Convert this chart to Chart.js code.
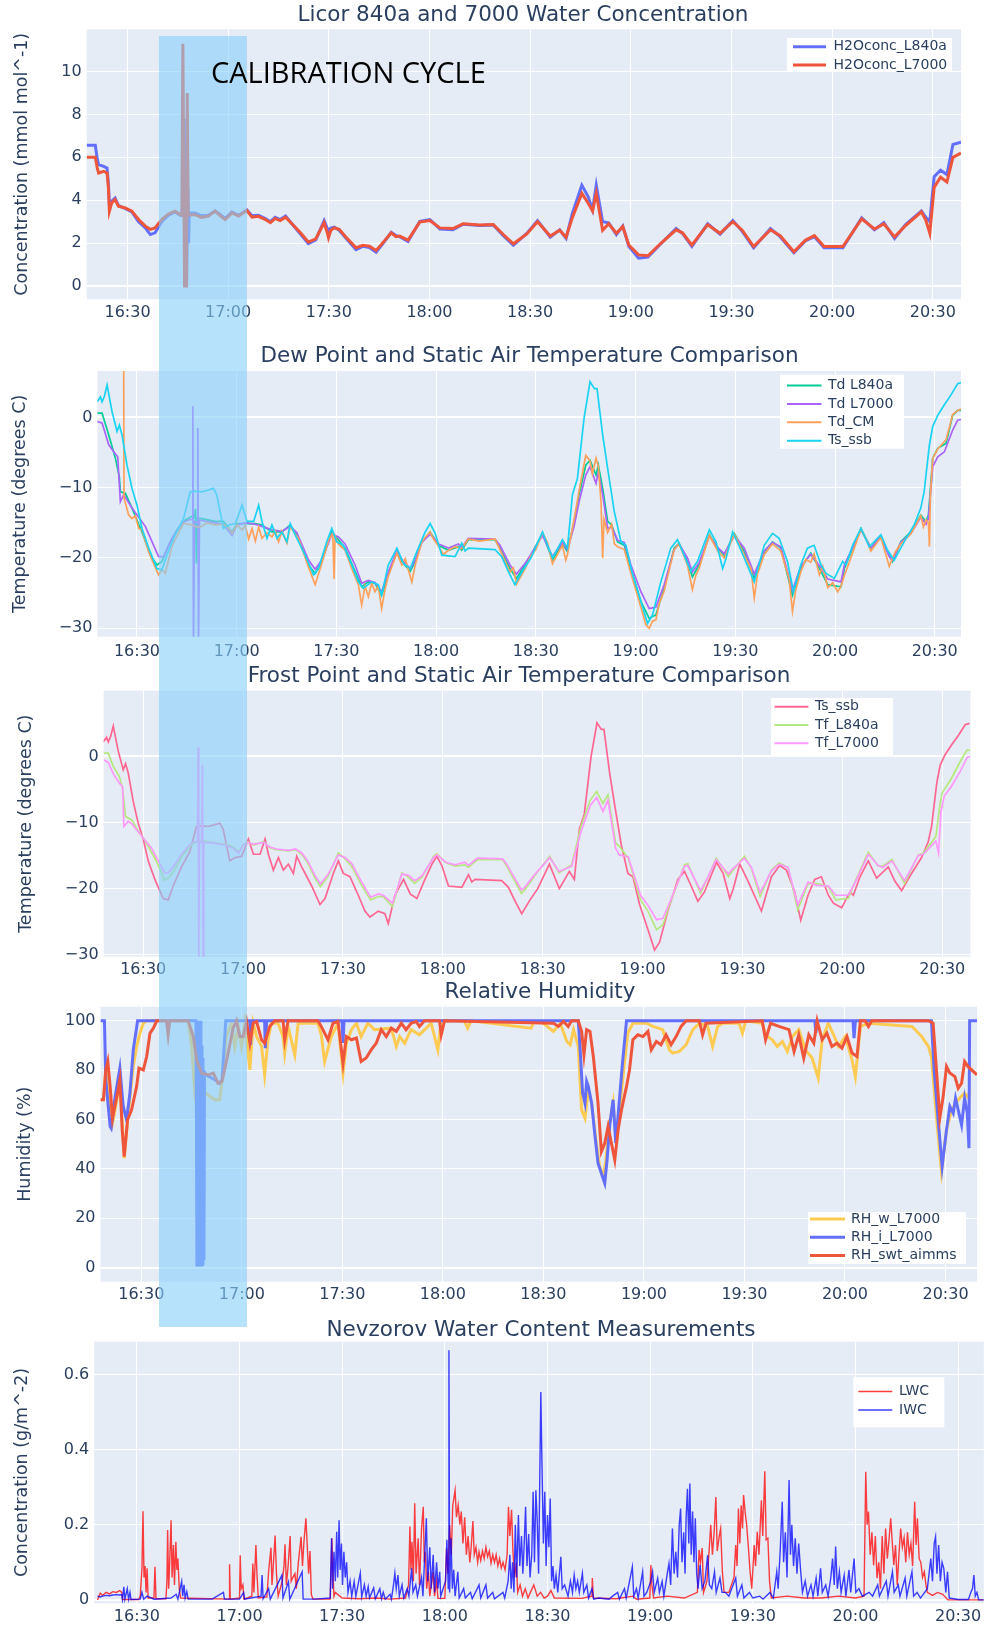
<!DOCTYPE html>
<html>
<head>
<meta charset="utf-8">
<script src="https://cdn.jsdelivr.net/npm/chart.js@4.4.1/dist/chart.umd.min.js"></script>
<style>
  html, body { margin: 0; padding: 0; background: #fff; }
  #page { position: relative; width: 985px; height: 1627px; overflow: hidden; }
  #page canvas { position: absolute; left: 0; }
  #calib { position: absolute; left: 159px; top: 36px; width: 88px; height: 1291px;
           background: rgba(135, 206, 250, 0.6); pointer-events: none; }
  #calibText { position: absolute; left: 211px; top: 57px; font: 29px "Open Sans"; line-height: 29px;
               color: #000; white-space: nowrap; }
</style>
</head>
<body>
<div id="page">
  <div id="calib"></div>
  <div id="calibText">CALIBRATION CYCLE</div>
</div>
<script>
// time values are minutes after 16:00
const CLOCK_START_HOUR = 16;

// Licor 840a and 7000 water concentration (mmol/mol)
const h2oL840a = [[17.84,6.56],[20.4,6.56],[21.0,5.9],[21.4,5.66],[22.9,5.58],[23.9,5.5],[24.3,4.8],[24.6,3.8],[25.3,3.95],[26.3,4.1],[27.3,3.75],[29.3,3.62],[31.3,3.45],[33.3,3.0],[35.3,2.71],[36.8,2.4],[38.2,2.48],[40.2,3.0],[42.2,3.3],[44.2,3.45],[45.7,3.3],[46.3,3.3],[46.9,7.8],[47.3,0.1],[47.6,0.1],[48.0,4.6],[48.2,2.0],[48.4,3.4],[50.1,3.4],[52.0,3.28],[54.1,3.3],[56.1,3.5],[57.5,3.35],[59.1,3.15],[61.1,3.45],[63.1,3.3],[65.6,3.55],[67.1,3.28],[69.0,3.3],[71.1,3.15],[72.6,3.0],[74.0,3.2],[75.5,3.1],[77.1,3.26],[79.0,2.9],[81.1,2.5],[83.9,1.98],[86.1,2.15],[88.6,3.05],[89.5,2.7],[89.9,2.6],[90.6,2.7],[91.6,2.75],[93.1,2.6],[95.0,2.25],[98.1,1.7],[100.1,1.85],[102.1,1.8],[104.1,1.58],[106.0,1.95],[108.6,2.5],[110.0,2.35],[111.1,2.3],[113.6,2.08],[117.1,3.02],[120.1,3.1],[123.1,2.66],[127.0,2.62],[130.0,2.88],[135.0,2.82],[139.0,2.85],[142.0,2.35],[145.0,1.9],[149.0,2.45],[152.2,3.05],[156.0,2.28],[158.8,2.62],[160.7,2.22],[162.6,3.4],[165.4,4.7],[167.3,4.16],[168.6,3.55],[169.7,4.7],[171.6,3.0],[173.4,2.95],[175.7,2.4],[177.6,2.8],[179.4,1.85],[182.3,1.3],[185.1,1.35],[188.8,1.95],[193.5,2.68],[195.4,2.45],[198.2,1.85],[202.9,2.9],[206.6,2.42],[210.4,3.05],[213.2,2.55],[216.6,1.78],[221.6,2.68],[224.5,2.3],[228.6,1.55],[232.0,2.1],[234.7,2.3],[237.6,1.78],[243.2,1.78],[248.8,3.18],[252.6,2.62],[255.4,2.95],[258.6,2.22],[261.9,2.86],[266.6,3.5],[267.9,3.2],[269.1,3.0],[270.4,5.1],[272.3,5.4],[274.2,5.2],[276.0,6.6],[278.4,6.7]];
const h2oL7000 = [[17.84,6.0],[20.4,6.0],[21.0,5.5],[21.4,5.27],[22.9,5.35],[23.9,5.27],[24.3,4.6],[24.6,3.49],[25.3,3.88],[26.3,4.03],[27.3,3.72],[29.3,3.64],[31.3,3.49],[33.3,3.1],[35.3,2.79],[36.8,2.64],[38.2,2.71],[40.2,3.1],[42.2,3.36],[44.2,3.49],[45.7,3.33],[46.2,3.3],[46.5,11.3],[47.0,0.0],[47.6,0.0],[47.8,9.0],[48.1,3.3],[50.1,3.33],[52.0,3.2],[54.1,3.26],[56.1,3.49],[57.5,3.3],[59.1,3.1],[61.1,3.41],[63.1,3.26],[65.6,3.52],[67.1,3.21],[69.0,3.25],[71.1,3.1],[72.6,2.95],[74.0,3.15],[75.5,3.05],[77.1,3.21],[79.0,2.9],[81.1,2.56],[83.9,2.05],[86.1,2.2],[88.6,2.95],[89.5,2.5],[89.9,2.25],[90.6,2.6],[91.6,2.71],[93.1,2.64],[95.0,2.3],[98.1,1.78],[100.1,1.9],[102.1,1.86],[104.1,1.66],[106.0,2.0],[108.6,2.48],[110.0,2.3],[111.1,2.33],[113.6,2.14],[117.1,2.98],[120.1,3.05],[123.1,2.71],[127.0,2.68],[130.0,2.9],[135.0,2.85],[139.0,2.87],[142.0,2.4],[145.0,1.97],[149.0,2.43],[152.2,3.0],[156.0,2.33],[158.8,2.6],[160.7,2.27],[162.6,3.2],[165.4,4.32],[167.3,3.86],[168.6,3.5],[169.7,4.32],[171.6,2.6],[173.4,2.9],[175.7,2.46],[177.6,2.77],[179.4,1.91],[182.3,1.45],[185.1,1.41],[188.8,1.97],[193.5,2.62],[195.4,2.48],[198.2,1.91],[202.9,2.86],[206.6,2.46],[210.4,3.0],[213.2,2.6],[216.6,1.84],[221.6,2.62],[224.5,2.35],[228.6,1.6],[232.0,2.13],[234.7,2.35],[237.6,1.84],[243.2,1.84],[248.8,3.13],[252.6,2.66],[255.4,2.9],[258.6,2.29],[261.9,2.82],[266.6,3.46],[267.9,3.07],[269.1,2.46],[270.4,4.6],[272.3,5.07],[274.2,4.85],[276.0,6.0],[278.4,6.2]];

// dew point / static air temperature (deg C)
const tdL840a = [[18.0,0.6],[19.5,0.6],[21.5,-2.5],[23.5,-5.8],[24.7,-8.5],[25.0,-10.6],[26.5,-10.8],[28.5,-12.9],[31.5,-16.3],[34.0,-19.6],[36.0,-21.0],[37.5,-20.5],[39.5,-18.2],[42.0,-16.0],[44.5,-14.6],[46.5,-14.1],[47.3,-14.3],[47.6,-13.0],[47.9,-20.8],[48.2,-14.3],[49.5,-14.4],[53.5,-14.8],[56.0,-14.8],[58.6,-16.3],[60.1,-15.1],[62.6,-15.1],[65.6,-15.1],[67.6,-15.3],[70.6,-16.3],[73.6,-16.3],[76.1,-15.3],[78.1,-16.7],[81.6,-21.0],[83.6,-22.2],[85.6,-20.5],[88.6,-16.3],[90.6,-17.4],[92.6,-18.6],[95.6,-21.9],[97.6,-24.1],[99.6,-23.4],[101.6,-23.6],[103.6,-25.3],[105.6,-22.4],[108.2,-19.1],[109.7,-20.5],[112.2,-21.9],[113.7,-20.5],[115.7,-17.7],[118.2,-16.3],[120.7,-18.2],[123.7,-18.9],[126.7,-18.4],[127.7,-18.9],[129.7,-17.4],[137.7,-17.4],[139.2,-18.6],[142.2,-21.5],[144.2,-22.9],[146.7,-21.0],[148.5,-19.6],[152.0,-16.5],[155.0,-20.3],[158.0,-17.9],[159.5,-19.1],[161.5,-14.8],[163.0,-11.0],[165.0,-6.8],[166.3,-6.1],[168.1,-8.2],[168.8,-6.8],[170.1,-10.1],[171.6,-14.8],[172.8,-15.3],[174.6,-17.7],[176.6,-18.2],[178.6,-21.5],[181.6,-26.2],[184.1,-28.6],[186.1,-28.1],[188.6,-24.3],[191.6,-18.6],[193.1,-17.9],[195.6,-20.5],[197.1,-22.7],[199.1,-21.0],[202.2,-16.7],[204.7,-18.6],[206.7,-19.6],[209.7,-16.5],[212.7,-19.1],[215.7,-22.9],[218.7,-19.1],[221.2,-17.7],[223.7,-18.6],[227.2,-25.3],[229.7,-21.5],[232.7,-19.3],[235.8,-21.9],[237.8,-23.8],[241.8,-24.1],[242.8,-21.5],[247.8,-15.8],[250.8,-18.6],[253.8,-16.9],[256.3,-19.6],[257.3,-20.5],[259.8,-17.7],[262.8,-16.3],[265.8,-13.9],[267.4,-14.8],[268.1,-13.9],[269.4,-5.8],[270.9,-4.4],[273.4,-3.7],[275.4,0.3],[276.9,1.0],[277.9,1.0]];
const tdL7000 = [[18.0,-0.6],[19.5,-0.8],[21.5,-3.9],[23.5,-5.2],[24.2,-5.6],[25.0,-12.0],[26.0,-11.0],[28.5,-12.9],[32.5,-15.5],[36.5,-19.8],[38.0,-19.8],[40.5,-17.2],[43.5,-15.0],[46.0,-14.5],[46.6,-14.6],[46.8,1.6],[47.0,-33],[47.3,-14.8],[48.1,-15.0],[48.3,-1.5],[48.5,-33],[48.8,-14.6],[50.0,-14.7],[53.5,-15.0],[56.0,-15.2],[58.6,-16.8],[60.1,-15.3],[62.6,-15.0],[65.6,-15.2],[67.6,-15.5],[70.6,-16.0],[73.6,-16.2],[76.1,-15.5],[78.1,-16.4],[81.6,-20.3],[83.6,-21.6],[85.6,-20.3],[88.6,-16.6],[90.6,-17.0],[92.6,-18.0],[95.6,-21.0],[97.6,-23.6],[99.6,-23.2],[101.6,-23.5],[103.6,-24.8],[105.6,-22.0],[108.2,-19.0],[109.7,-20.2],[112.2,-21.5],[113.7,-20.3],[115.7,-17.8],[118.2,-16.6],[120.7,-18.0],[123.7,-18.6],[126.7,-18.0],[127.7,-18.5],[129.7,-17.2],[137.7,-17.3],[139.2,-18.2],[142.2,-21.0],[144.2,-22.3],[146.7,-20.8],[148.5,-19.5],[152.0,-16.8],[155.0,-19.8],[158.0,-17.8],[159.5,-18.8],[161.5,-15.5],[163.0,-12.0],[165.0,-8.2],[166.3,-7.0],[168.1,-9.4],[168.8,-7.8],[170.1,-11.0],[171.6,-15.8],[172.8,-15.6],[174.6,-17.5],[176.6,-17.8],[178.6,-21.0],[181.6,-24.8],[184.1,-27.2],[186.1,-27.0],[188.6,-23.8],[191.6,-18.8],[193.1,-18.0],[195.6,-20.0],[197.1,-22.0],[199.1,-20.7],[202.2,-16.9],[204.7,-18.5],[206.7,-19.4],[209.7,-16.8],[212.7,-18.6],[215.7,-22.3],[218.7,-19.0],[221.2,-17.8],[223.7,-18.4],[227.2,-24.6],[229.7,-21.2],[232.7,-19.5],[235.8,-21.4],[237.8,-23.0],[241.8,-23.4],[242.8,-21.0],[247.8,-16.0],[250.8,-18.6],[253.8,-17.0],[256.3,-19.8],[257.3,-20.3],[259.8,-17.8],[262.8,-16.5],[265.8,-14.2],[267.4,-15.2],[268.1,-14.4],[269.4,-7.0],[270.9,-5.6],[272.9,-4.9],[275.4,-1.8],[276.9,-0.4],[277.9,-0.3]];
const tdCM = [[26.0,8.0],[26.1,-11.5],[27.5,-13.9],[28.5,-14.4],[29.5,-14.0],[30.5,-15.8],[31.5,-16.0],[32.5,-17.6],[33.5,-19.1],[35.0,-20.8],[36.5,-22.4],[37.5,-21.6],[38.5,-22.2],[40.5,-18.4],[42.5,-16.4],[44.0,-15.1],[46.5,-15.3],[48.0,-15.6],[49.5,-15.5],[51.0,-15.0],[53.5,-15.3],[56.0,-15.2],[57.6,-15.8],[58.6,-16.5],[60.1,-15.3],[61.6,-16.0],[62.6,-15.4],[63.6,-17.3],[64.6,-15.8],[65.6,-17.6],[66.6,-15.6],[67.6,-17.2],[69.1,-16.4],[70.6,-17.0],[71.6,-16.2],[72.6,-17.7],[73.6,-16.2],[75.1,-17.9],[76.1,-15.5],[77.6,-16.6],[78.6,-17.2],[81.6,-21.3],[83.6,-23.8],[85.6,-20.8],[87.6,-17.5],[88.9,-16.5],[89.3,-23.0],[89.6,-16.9],[90.6,-18.0],[92.6,-18.9],[94.6,-21.5],[96.6,-23.8],[97.6,-26.7],[98.6,-24.0],[99.6,-25.5],[100.6,-23.6],[101.6,-24.8],[102.6,-24.0],[103.6,-27.2],[104.6,-24.5],[105.6,-22.6],[108.2,-19.3],[109.7,-21.0],[110.7,-20.1],[112.2,-22.6],[112.7,-23.4],[113.7,-21.0],[115.7,-17.7],[117.2,-16.8],[118.2,-16.3],[119.2,-17.3],[120.7,-18.3],[122.2,-19.5],[123.7,-18.9],[125.7,-18.4],[127.7,-18.7],[129.7,-17.3],[133.0,-17.6],[137.7,-17.3],[139.2,-18.8],[142.2,-22.0],[143.2,-21.4],[144.2,-23.7],[146.7,-21.6],[148.5,-19.7],[150.0,-18.8],[152.0,-16.4],[153.5,-17.8],[155.0,-20.8],[156.5,-19.5],[158.0,-18.2],[159.0,-20.3],[159.5,-19.5],[161.5,-14.5],[163.0,-10.5],[165.0,-5.4],[166.3,-6.2],[167.0,-8.0],[168.1,-5.8],[168.8,-7.0],[169.6,-12.0],[170.1,-20.0],[170.5,-14.5],[171.6,-16.4],[172.8,-15.2],[173.6,-18.0],[174.6,-18.4],[176.6,-18.8],[178.6,-22.2],[181.6,-27.0],[183.1,-29.5],[184.1,-30.0],[185.1,-29.0],[186.1,-28.8],[187.1,-26.5],[188.6,-24.7],[191.6,-18.8],[193.1,-18.0],[195.6,-21.0],[197.1,-24.5],[198.1,-22.5],[199.1,-21.5],[202.2,-16.8],[204.7,-19.0],[206.7,-20.0],[209.7,-16.6],[212.7,-19.6],[214.7,-21.5],[215.7,-25.7],[216.7,-22.3],[218.7,-19.5],[221.2,-18.0],[223.7,-19.0],[226.2,-23.0],[227.2,-27.6],[228.2,-24.5],[229.7,-22.0],[231.2,-20.2],[232.7,-20.6],[233.7,-19.4],[235.3,-22.4],[236.3,-21.2],[237.8,-24.2],[239.3,-23.5],[240.8,-24.8],[241.8,-24.0],[242.8,-22.5],[244.3,-20.6],[247.8,-15.9],[249.3,-17.3],[250.8,-19.0],[253.8,-17.1],[255.3,-19.5],[256.3,-21.2],[257.3,-20.0],[258.3,-19.0],[259.8,-18.0],[262.8,-16.6],[265.8,-14.0],[266.6,-15.6],[267.4,-14.6],[268.1,-15.0],[268.4,-18.4],[268.7,-11.0],[269.4,-5.8],[270.9,-4.5],[273.4,-3.2],[275.4,0.4],[276.9,1.0],[277.9,1.2]];
const tsSsb = [[18.0,2.2],[19.0,2.9],[19.5,2.2],[20.2,3.0],[21.0,4.6],[22.5,0.8],[24.0,-2.0],[24.7,-1.1],[25.5,-2.5],[27.0,-6.8],[28.5,-10.1],[30.0,-12.5],[31.5,-15.8],[33.5,-18.6],[36.0,-21.5],[37.5,-21.7],[39.0,-19.6],[41.5,-16.7],[44.0,-14.4],[46.0,-10.6],[47.5,-10.5],[49.5,-10.6],[51.0,-10.4],[53.0,-10.1],[54.0,-11.0],[56.0,-15.8],[57.6,-15.3],[59.6,-15.1],[61.6,-12.5],[63.1,-14.8],[65.1,-14.8],[66.6,-12.5],[67.6,-14.8],[69.1,-17.2],[70.6,-15.3],[72.1,-17.2],[73.6,-16.3],[75.1,-17.7],[76.1,-15.1],[77.6,-16.7],[80.6,-19.6],[83.1,-22.4],[84.6,-21.5],[87.1,-17.7],[88.6,-15.8],[90.1,-17.7],[92.1,-18.2],[94.6,-21.0],[96.6,-23.4],[98.1,-24.3],[100.6,-23.4],[102.6,-23.8],[103.6,-25.3],[105.6,-21.0],[108.2,-18.6],[110.2,-20.8],[112.2,-21.5],[114.2,-19.1],[116.7,-16.3],[118.2,-15.1],[119.7,-16.5],[121.7,-19.6],[125.7,-19.8],[127.7,-17.9],[128.7,-19.0],[129.7,-18.6],[137.7,-18.8],[139.7,-19.8],[141.7,-21.9],[143.7,-23.8],[146.2,-21.7],[148.5,-20.0],[152.0,-16.3],[155.0,-20.0],[158.0,-17.4],[159.5,-18.6],[161.0,-11.0],[162.5,-8.7],[164.5,-0.1],[166.3,5.1],[167.6,4.1],[168.4,4.1],[170.1,-2.5],[171.6,-7.3],[173.6,-13.4],[175.6,-17.7],[177.1,-18.2],[179.1,-22.4],[181.6,-26.2],[183.6,-29.3],[185.1,-28.1],[187.6,-23.4],[190.6,-18.6],[192.6,-17.4],[194.6,-19.6],[196.6,-21.9],[198.6,-20.5],[202.2,-16.0],[204.2,-17.7],[206.2,-21.5],[207.2,-20.1],[209.2,-16.3],[211.7,-18.9],[215.7,-23.4],[218.7,-18.2],[221.2,-16.5],[223.2,-17.2],[225.7,-20.5],[227.5,-24.8],[229.7,-21.0],[231.7,-18.6],[233.7,-18.2],[235.8,-21.0],[237.3,-22.2],[239.8,-22.9],[242.3,-20.5],[243.3,-21.0],[245.3,-18.2],[247.8,-15.8],[250.3,-18.4],[253.8,-16.7],[255.8,-18.9],[257.8,-20.3],[260.8,-17.7],[263.8,-15.3],[265.8,-12.9],[266.8,-10.6],[268.4,-3.9],[269.4,-1.3],[270.9,0.3],[272.9,1.8],[274.9,3.2],[276.9,4.8],[278.2,5.0]];

// frost point (deg C)
const tfL840a = [[18.1,0.5],[19.5,0.5],[21.0,-1.5],[22.8,-3.0],[23.8,-4.8],[24.7,-9.1],[26.6,-9.6],[28.5,-11.3],[30.4,-12.6],[32.5,-14.5],[34.2,-16.1],[36.4,-18.7],[37.5,-18.4],[38.9,-17.6],[41.7,-15.1],[44.5,-13.4],[46.5,-12.8],[47.4,-12.6],[49.2,-12.9],[52.1,-13.1],[54.5,-13.3],[56.8,-13.6],[58.7,-14.4],[60.1,-13.3],[61.5,-12.9],[63.1,-13.4],[66.2,-12.9],[68.0,-13.8],[70.0,-14.1],[73.6,-14.3],[75.7,-14.1],[77.6,-14.8],[79.4,-16.1],[81.6,-18.4],[83.2,-19.7],[85.6,-18.1],[88.6,-14.6],[90.6,-15.5],[92.6,-16.6],[95.6,-19.5],[98.3,-21.7],[100.6,-21.2],[102.1,-21.2],[104.9,-22.7],[107.7,-17.6],[109.7,-18.3],[111.5,-19.2],[113.7,-18.3],[117.2,-15.1],[118.2,-14.7],[120.9,-16.1],[123.7,-16.6],[126.6,-16.4],[127.7,-16.8],[130.4,-15.6],[137.9,-15.6],[139.2,-16.6],[143.6,-20.7],[144.6,-20.2],[147.4,-18.2],[152.1,-15.1],[154.9,-17.6],[158.7,-16.4],[161.5,-10.6],[164.3,-6.6],[166.2,-5.3],[168.1,-7.1],[169.6,-5.8],[171.9,-13.1],[173.0,-13.6],[175.7,-15.4],[179.4,-21.7],[181.6,-23.4],[184.2,-26.2],[186.1,-25.5],[187.9,-22.7],[192.6,-16.4],[193.6,-16.2],[197.4,-20.7],[199.1,-18.9],[202.1,-15.4],[205.8,-18.2],[206.7,-17.5],[210.6,-15.1],[212.7,-17.0],[215.3,-21.2],[218.7,-17.2],[221.0,-16.1],[223.7,-16.8],[226.6,-23.2],[229.7,-19.3],[232.3,-19.2],[235.8,-19.7],[238.0,-21.7],[241.8,-21.5],[243.6,-19.2],[247.8,-14.5],[250.8,-16.6],[252.1,-16.6],[254.9,-15.6],[258.7,-19.2],[262.8,-14.9],[264.3,-14.6],[266.8,-13.0],[268.1,-12.1],[269.4,-7.0],[270.0,-5.5],[272.8,-3.3],[275.7,-0.5],[277.5,1.0],[278.4,0.9]];
const tfL7000 = [[18.1,-0.5],[19.5,-0.9],[21.0,-2.6],[22.8,-4.0],[23.8,-4.6],[24.2,-10.6],[25.5,-9.8],[26.6,-10.2],[28.5,-11.4],[30.4,-12.6],[32.5,-13.9],[34.2,-15.5],[36.4,-17.6],[37.5,-17.6],[38.9,-16.8],[41.7,-14.7],[44.5,-13.1],[46.3,-12.8],[46.5,1.4],[46.7,-31],[46.9,-13.0],[47.5,-13.0],[47.8,-1.3],[48.0,-31],[48.2,-13.1],[49.2,-13.0],[52.1,-13.2],[54.5,-13.4],[56.8,-13.8],[58.7,-14.6],[60.1,-13.4],[61.5,-13.0],[63.1,-13.3],[66.2,-13.0],[68.0,-13.7],[70.0,-14.0],[73.6,-14.2],[75.7,-14.0],[77.6,-14.6],[79.4,-15.8],[81.6,-18.0],[83.2,-19.3],[85.6,-17.8],[88.6,-14.9],[90.6,-15.3],[92.6,-16.2],[95.6,-19.0],[98.3,-21.3],[100.6,-20.8],[102.1,-21.0],[104.9,-22.2],[107.7,-17.8],[109.7,-18.0],[111.5,-18.8],[113.7,-18.1],[117.2,-15.3],[118.2,-14.9],[120.9,-16.0],[123.7,-16.4],[126.6,-16.0],[127.7,-16.5],[130.4,-15.4],[137.9,-15.5],[139.2,-16.3],[143.6,-20.2],[144.6,-19.8],[147.4,-18.0],[152.1,-15.3],[154.9,-17.4],[158.7,-16.6],[161.5,-11.4],[164.3,-7.4],[166.2,-6.2],[168.1,-8.3],[169.6,-6.6],[171.9,-13.9],[173.0,-14.9],[175.7,-15.2],[179.4,-21.0],[181.6,-22.5],[184.2,-24.7],[186.1,-24.5],[187.9,-22.4],[192.6,-16.6],[193.6,-16.5],[197.4,-20.3],[199.1,-18.8],[202.1,-15.6],[205.8,-17.8],[206.7,-17.2],[210.6,-15.4],[212.7,-16.8],[215.3,-20.6],[218.7,-17.3],[221.0,-16.3],[223.7,-16.8],[226.6,-22.5],[229.7,-19.0],[232.3,-19.5],[235.8,-19.6],[238.0,-21.0],[241.8,-21.0],[243.6,-19.3],[247.8,-14.8],[250.8,-16.5],[252.1,-16.8],[254.9,-15.8],[258.7,-18.8],[262.8,-15.0],[264.3,-14.8],[266.8,-13.5],[268.1,-12.8],[268.9,-14.6],[269.6,-8.5],[270.6,-6.0],[272.8,-4.5],[275.7,-2.0],[277.5,-0.1],[278.4,0.0]];

// relative humidity (%)
const rhW = [[17.8,68],[18.7,68],[19.4,80.1],[20.7,62.6],[21.4,58.5],[22.7,68],[23.6,76.1],[24.9,44.3],[26.1,62.6],[27.6,81.5],[28.6,89.6],[29.6,95],[30.6,99],[31.6,100],[44.0,100],[45.0,89.6],[46.0,70.7],[47.0,76.1],[48.0,72],[50.5,69.3],[51.9,68],[53.4,68],[54.4,80.1],[55.4,93.6],[56.9,99],[57.9,89.6],[58.9,97.7],[59.9,89.6],[60.9,99],[62.4,80.1],[63.4,99],[64.4,93.6],[65.9,89.6],[66.8,78.1],[67.8,92.3],[68.8,99],[70.8,99],[72.3,93.6],[72.8,86.9],[73.8,97.7],[75.8,86.2],[76.8,99],[82.7,99],[83.7,94.3],[84.7,83.5],[86.7,93.6],[88.7,99],[90.2,78.8],[91.2,90.9],[92.7,96.4],[94.2,99],[95.6,93.6],[97.6,99],[99.6,96.4],[104.6,97],[106.1,89.6],[107.1,93.6],[108.6,90.9],[110.5,96.4],[113.0,94.3],[116.5,99],[118.5,88.2],[119.5,100],[126.4,100],[127.4,97],[128.4,100],[146.3,97],[147.3,100],[150.0,99],[153.0,95.7],[155.0,99],[157.0,91.6],[158.0,90.3],[159.0,96.4],[160.4,89.6],[161.4,63.9],[162.4,60.5],[163.4,72],[164.4,66.6],[165.8,50.4],[166.8,41],[167.8,36.9],[168.6,43],[169.6,57.2],[170.8,66.6],[171.8,50.4],[173.0,68],[174.3,84.2],[175.2,95],[176.7,99],[180.7,99],[182.7,97.7],[185.6,96.4],[187.6,88.2],[188.6,86.9],[190.6,87.6],[192.6,90.3],[194.6,96.4],[196.6,99],[199.0,97.7],[200.5,89.6],[202.0,97.7],[203.5,99],[208.4,99],[209.4,95],[210.4,100],[215.3,99],[216.3,94.3],[218.3,92.3],[219.8,89.6],[221.3,91.6],[222.8,87.6],[224.3,93.6],[226.2,96.4],[228.2,88.2],[230.2,84.9],[232.0,76.8],[233.2,92.3],[235.0,99],[236.6,94.3],[238.1,89.6],[240.1,93.6],[242.1,84.2],[243.1,77.4],[244.6,97.7],[247.0,99],[260.0,97.7],[262.9,93.6],[264.9,89.6],[265.8,85.5],[267.3,61.2],[268.8,38.9],[270.3,55.8],[271.8,63.9],[273.8,68],[275.7,70.7],[277.0,68.6]];
const rhI = [[17.8,100],[19.0,100],[19.4,76.1],[20.7,57.2],[21.0,56.5],[22.2,69.3],[23.6,80.8],[24.6,65.3],[25.6,59.9],[26.6,70.7],[27.6,88.2],[28.9,100],[46.3,100],[46.45,60],[46.6,0.5],[46.75,100],[46.9,2],[47.05,100],[47.2,1],[47.35,95],[47.5,0.5],[47.65,100],[47.8,1],[47.95,90],[48.1,0.5],[48.25,85],[48.4,1],[48.55,80],[48.7,3],[48.85,79],[49.0,78.8],[50.0,77.5],[51.9,76.1],[53.4,74.7],[54.1,76.1],[55.2,100],[62.4,100],[62.6,90.3],[62.9,100],[66.8,100],[67.0,88.9],[67.4,100],[89.9,100],[90.2,91],[90.5,100],[160.4,100],[160.9,89.6],[161.7,70.7],[162.4,66.6],[162.9,75.4],[163.4,73.4],[164.4,66.6],[165.3,54.5],[166.3,42.3],[167.3,38.2],[168.3,34.2],[169.0,43.6],[169.8,57.8],[170.8,68.0],[171.6,50.4],[172.6,66.6],[173.6,82.8],[174.8,100],[231.0,100],[231.3,95],[231.7,100],[242.4,100],[242.7,93],[243.1,100],[265.8,100],[266.6,80.1],[267.8,59.9],[269.0,41.0],[270.3,55.8],[271.3,65.3],[272.3,62.6],[273.0,68.6],[274.0,62.6],[274.8,57.8],[275.7,68.6],[276.5,62.6],[277.0,48.4],[277.2,100],[279.4,100]];
const rhSwt = [[17.8,68],[18.7,68],[19.4,80.1],[20.0,83.5],[20.7,73.4],[21.4,60.5],[22.7,69.3],[23.6,76.1],[24.3,55.8],[24.9,45],[25.9,59.9],[27.1,63.9],[28.6,73.4],[29.3,80.8],[30.6,80.1],[31.6,85.5],[32.6,95],[33.6,97],[34.6,100],[37.5,100],[38.0,94.3],[38.5,100],[44.0,100],[45.5,93.6],[46.5,84.2],[48.0,78.8],[50.0,78.1],[51.5,78.8],[52.9,74.7],[54.1,75.4],[55.9,86.9],[57.4,97],[58.4,100],[59.4,93.6],[60.4,93.6],[61.4,99.7],[62.4,90.9],[63.4,99.2],[64.4,99.7],[65.9,92.3],[66.8,90.9],[68.3,97.7],[69.8,100],[72.3,100],[72.8,92.3],[73.8,100],[82.7,100],[83.7,97.7],[85.7,92.3],[87.2,99],[88.7,99.7],[90.2,82.8],[91.2,93.6],[92.7,92.3],[94.2,93],[95.6,83.5],[97.1,84.9],[98.6,88.2],[100.1,90.9],[101.6,96.4],[103.1,93.6],[104.6,97],[106.1,95.7],[107.6,99],[109.0,96.4],[110.5,99],[112.0,99.7],[113.0,97.7],[114.5,100],[119.0,100],[119.5,94.3],[120.5,100],[153.0,99],[154.5,97.7],[156.0,99.7],[157.4,97.7],[158.4,100],[160.4,100],[161.4,95.7],[162.1,86.2],[162.9,96.4],[163.9,95.7],[164.9,85.5],[166.3,66.6],[167.3,47],[168.3,50.4],[169.3,57.2],[170.3,50.4],[171.3,43.6],[172.3,55.8],[173.3,63.9],[174.8,73.4],[175.7,80.1],[176.7,92.3],[178.2,94.3],[179.7,93.6],[181.2,95.7],[182.2,88.2],[183.7,91.6],[185.1,90.3],[186.6,94.3],[188.1,90.3],[189.6,93.6],[191.1,97.7],[192.6,100],[196.5,100],[197.5,94.3],[198.5,99],[215.3,100],[216.3,92.3],[217.8,99],[220.3,97.7],[223.3,96.4],[224.8,87.6],[226.2,94.3],[227.7,84.9],[229.2,94.3],[230.7,90.9],[231.7,100],[233.2,92.3],[234.6,95],[236.1,89.6],[237.6,90.9],[239.1,88.9],[240.6,93.6],[242.1,86.9],[243.6,85.5],[244.6,100],[246.0,100],[247.0,97.7],[248.0,100],[264.9,100],[266.3,99],[267.3,80.1],[268.3,60.5],[269.3,69.3],[270.3,81.5],[271.3,78.8],[272.8,77.4],[273.8,72.7],[274.8,74.7],[275.7,83.5],[276.7,81.5],[279.4,78.1]];

// Nevzorov liquid / ice water content
const lwc = [[18.5,0.0],[19.3,0.018],[20.0,0.012],[21.0,0.02],[22.0,0.016],[23.0,0.022],[24.0,0.02],[25.0,0.025],[25.6,0.02],[25.8,0.001],[30.5,0.001],[31.0,0.01],[31.5,0.084],[31.8,0.236],[32.1,0.06],[32.4,0.09],[32.7,0.02],[33.0,0.084],[33.3,0.005],[35.0,0.005],[35.3,0.088],[35.6,0.003],[38.5,0.003],[38.8,0.05],[39.0,0.186],[39.3,0.03],[39.6,0.1],[40.0,0.212],[40.3,0.06],[40.7,0.146],[41.0,0.04],[41.4,0.155],[41.7,0.08],[42.0,0.11],[42.4,0.03],[42.8,0.005],[57.0,0.002],[57.1,0.095],[57.3,0.002],[60.0,0.005],[60.2,0.119],[60.5,0.03],[61.0,0.04],[61.3,0.002],[63.6,0.01],[63.9,0.097],[64.2,0.02],[64.8,0.146],[65.1,0.07],[65.5,0.005],[68.0,0.008],[68.5,0.075],[69.2,0.139],[69.5,0.04],[70.0,0.11],[70.4,0.171],[70.8,0.07],[71.3,0.01],[72.5,0.05],[73.0,0.09],[73.3,0.148],[73.7,0.04],[74.2,0.09],[74.8,0.17],[75.1,0.05],[75.6,0.06],[76.2,0.07],[76.6,0.03],[77.2,0.1],[78.0,0.168],[78.4,0.09],[78.8,0.15],[79.4,0.217],[79.8,0.145],[80.2,0.07],[80.6,0.13],[81.0,0.014],[81.5,0.002],[86.5,0.002],[87.0,0.164],[87.3,0.075],[87.6,0.01],[88.0,0.02],[90.0,0.005],[95.0,0.003],[100.0,0.005],[104.0,0.002],[108.5,0.005],[109.4,0.04],[109.8,0.195],[110.1,0.08],[110.4,0.155],[110.8,0.05],[111.2,0.257],[111.6,0.07],[112.2,0.164],[112.6,0.04],[113.2,0.19],[113.7,0.248],[114.0,0.1],[114.3,0.128],[114.7,0.03],[115.2,0.075],[115.6,0.01],[116.6,0.075],[117.0,0.01],[117.6,0.05],[118.0,0.004],[120.0,0.004],[120.5,0.137],[120.9,0.07],[121.4,0.2],[121.9,0.12],[122.3,0.25],[123.0,0.292],[123.4,0.22],[123.9,0.252],[124.4,0.2],[124.8,0.235],[125.3,0.15],[125.8,0.22],[126.3,0.12],[126.8,0.17],[127.3,0.1],[127.7,0.14],[128.2,0.21],[128.6,0.12],[129.1,0.14],[129.6,0.1],[130.0,0.128],[130.5,0.105],[131.0,0.13],[131.5,0.11],[132.0,0.14],[132.5,0.115],[133.0,0.13],[133.5,0.098],[134.0,0.12],[134.5,0.1],[135.0,0.12],[135.5,0.09],[136.0,0.11],[136.5,0.085],[137.0,0.1],[137.6,0.08],[138.2,0.12],[138.6,0.248],[139.0,0.17],[139.5,0.24],[139.9,0.13],[140.4,0.06],[140.9,0.1],[141.3,0.02],[142.0,0.04],[142.7,0.01],[143.5,0.03],[144.3,0.005],[145.0,0.02],[146.0,0.04],[147.0,0.01],[148.0,0.02],[149.0,0.005],[150.0,0.01],[151.0,0.025],[152.0,0.005],[160.0,0.004],[163.0,0.01],[163.1,0.058],[163.4,0.005],[170.0,0.003],[175.0,0.01],[176.0,0.002],[179.9,0.005],[180.2,0.093],[180.5,0.04],[181.0,0.005],[185.0,0.01],[190.0,0.005],[193.8,0.02],[194.3,0.133],[194.7,0.1],[195.2,0.138],[195.6,0.02],[196.6,0.05],[197.3,0.14],[197.7,0.2],[198.2,0.12],[198.7,0.18],[199.2,0.274],[199.6,0.13],[200.2,0.17],[200.6,0.19],[201.1,0.075],[201.6,0.02],[203.0,0.02],[204.5,0.06],[205.0,0.146],[205.4,0.09],[205.8,0.243],[206.2,0.15],[206.6,0.252],[207.0,0.19],[207.3,0.279],[207.8,0.23],[208.2,0.2],[208.7,0.14],[209.2,0.075],[209.7,0.03],[210.4,0.146],[210.8,0.09],[211.3,0.181],[211.8,0.12],[212.5,0.265],[212.9,0.17],[213.5,0.342],[213.9,0.16],[214.4,0.164],[214.9,0.048],[215.4,0.005],[220.0,0.01],[225.0,0.005],[230.0,0.005],[235.0,0.01],[240.0,0.005],[242.5,0.01],[243.0,0.341],[243.4,0.2],[243.8,0.235],[244.3,0.12],[244.8,0.18],[245.3,0.092],[245.8,0.17],[246.3,0.058],[246.8,0.1],[247.3,0.03],[247.8,0.17],[248.3,0.07],[248.8,0.19],[249.3,0.11],[249.8,0.16],[250.3,0.217],[250.7,0.16],[251.2,0.093],[251.7,0.146],[252.2,0.04],[252.7,0.12],[253.2,0.19],[253.7,0.14],[254.2,0.165],[254.7,0.1],[255.2,0.18],[255.7,0.12],[256.2,0.15],[256.7,0.09],[257.3,0.261],[257.7,0.146],[258.1,0.217],[258.6,0.11],[259.1,0.1],[259.6,0.06],[260.1,0.075],[260.6,0.04],[261.0,0.02],[262.5,0.012],[264.0,0.02],[265.5,0.015],[267.0,0.0],[277.5,0.0]];
const iwc = [[18.5,0.01],[19.3,0.008],[20.0,0.01],[21.0,0.012],[22.0,0.011],[23.0,0.013],[24.0,0.014],[25.0,0.013],[25.6,0.014],[25.8,0.001],[26.2,0.035],[26.5,0.002],[27.2,0.03],[27.6,0.002],[28.0,0.02],[28.3,0.001],[31.0,0.002],[31.5,0.02],[32.0,0.002],[33.0,0.01],[35.0,0.002],[40.0,0.005],[41.5,0.015],[42.0,0.002],[43.1,0.049],[43.4,0.01],[43.8,0.04],[44.1,0.005],[44.6,0.022],[45.0,0.002],[52.0,0.002],[55.3,0.02],[55.6,0.002],[60.0,0.002],[61.2,0.02],[61.5,0.002],[66.3,0.01],[66.6,0.066],[66.9,0.003],[68.5,0.03],[69.0,0.002],[72.4,0.066],[72.7,0.005],[74.3,0.048],[74.7,0.002],[78.3,0.075],[78.6,0.002],[82.0,0.002],[86.5,0.005],[86.9,0.164],[87.2,0.03],[87.6,0.128],[88.0,0.05],[88.4,0.181],[88.7,0.06],[89.1,0.212],[89.4,0.08],[89.8,0.15],[90.1,0.04],[90.5,0.128],[90.9,0.06],[91.3,0.1],[91.7,0.02],[92.3,0.05],[92.8,0.01],[93.5,0.049],[94.0,0.01],[95.3,0.071],[95.7,0.008],[96.5,0.04],[97.0,0.01],[97.6,0.035],[98.0,0.005],[99.2,0.032],[99.7,0.003],[101.0,0.03],[101.5,0.003],[102.0,0.02],[102.6,0.002],[104.0,0.015],[104.4,0.002],[105.0,0.04],[105.4,0.071],[105.8,0.03],[106.3,0.066],[106.7,0.01],[107.5,0.04],[108.0,0.005],[109.0,0.03],[109.5,0.01],[110.3,0.084],[110.7,0.02],[111.5,0.04],[112.0,0.01],[113.2,0.06],[113.6,0.01],[114.6,0.217],[115.0,0.05],[115.6,0.14],[116.0,0.03],[116.6,0.12],[117.0,0.02],[117.6,0.1],[118.0,0.03],[118.5,0.075],[118.8,0.01],[120.2,0.05],[120.6,0.16],[121.0,0.03],[121.2,0.664],[121.4,0.02],[121.8,0.164],[122.2,0.03],[122.6,0.08],[123.0,0.01],[123.8,0.075],[124.2,0.005],[125.5,0.03],[126.0,0.005],[127.5,0.02],[128.0,0.003],[130.0,0.04],[130.5,0.005],[132.0,0.04],[132.5,0.005],[134.0,0.02],[134.5,0.003],[137.0,0.02],[137.5,0.005],[138.5,0.05],[139.0,0.12],[139.4,0.03],[139.8,0.1],[140.2,0.02],[140.6,0.2],[141.0,0.06],[141.5,0.226],[141.9,0.09],[142.4,0.17],[142.8,0.07],[143.2,0.15],[143.6,0.248],[144.0,0.09],[144.5,0.175],[144.9,0.06],[145.4,0.12],[145.8,0.288],[146.2,0.1],[146.6,0.292],[147.0,0.21],[147.4,0.07],[147.7,0.288],[148.05,0.553],[148.4,0.354],[148.8,0.15],[149.2,0.288],[149.6,0.09],[150.0,0.226],[150.4,0.14],[150.8,0.27],[151.2,0.05],[151.6,0.09],[152.0,0.03],[152.5,0.066],[153.0,0.02],[153.9,0.115],[154.3,0.03],[155.0,0.04],[156.0,0.01],[156.7,0.05],[157.3,0.02],[157.8,0.066],[158.3,0.03],[158.8,0.05],[159.3,0.02],[160.2,0.071],[160.6,0.02],[161.5,0.04],[162.0,0.005],[163.0,0.03],[163.5,0.002],[165.0,0.005],[168.0,0.002],[169.0,0.01],[170.5,0.02],[171.0,0.002],[172.5,0.03],[173.0,0.005],[174.8,0.088],[175.2,0.01],[176.0,0.03],[176.5,0.005],[177.8,0.075],[178.2,0.01],[179.0,0.02],[180.2,0.05],[180.7,0.075],[181.2,0.02],[182.2,0.058],[182.7,0.02],[183.5,0.049],[184.0,0.01],[185.0,0.07],[185.5,0.097],[186.0,0.04],[186.5,0.19],[187.0,0.07],[187.5,0.128],[188.0,0.06],[188.5,0.2],[188.9,0.243],[189.3,0.1],[189.8,0.18],[190.2,0.07],[190.5,0.217],[190.9,0.296],[191.3,0.15],[191.6,0.31],[192.0,0.12],[192.4,0.235],[192.8,0.1],[193.2,0.217],[193.6,0.07],[194.0,0.03],[194.6,0.093],[195.2,0.03],[196.0,0.05],[196.8,0.119],[197.3,0.04],[198.0,0.03],[198.8,0.075],[199.3,0.02],[200.4,0.058],[201.0,0.02],[202.0,0.02],[203.0,0.01],[205.0,0.058],[205.5,0.01],[206.8,0.04],[207.4,0.005],[209.0,0.02],[210.0,0.005],[212.0,0.01],[213.0,0.002],[215.0,0.02],[216.0,0.005],[217.0,0.075],[217.4,0.03],[218.0,0.13],[218.6,0.261],[219.0,0.1],[219.5,0.18],[220.0,0.06],[220.6,0.319],[221.0,0.12],[221.4,0.2],[221.9,0.09],[222.4,0.164],[222.9,0.07],[223.4,0.15],[224.0,0.075],[224.5,0.02],[225.3,0.05],[226.0,0.01],[227.0,0.04],[227.6,0.01],[228.5,0.058],[229.0,0.01],[229.8,0.084],[230.3,0.02],[231.3,0.04],[232.0,0.01],[232.8,0.06],[233.3,0.11],[233.8,0.04],[234.2,0.142],[234.7,0.03],[235.3,0.075],[235.8,0.02],[236.7,0.066],[237.2,0.01],[238.1,0.08],[238.6,0.02],[239.6,0.11],[240.1,0.02],[241.0,0.03],[242.0,0.01],[244.0,0.02],[245.0,0.01],[246.5,0.04],[247.0,0.01],[249.0,0.05],[249.5,0.01],[250.8,0.075],[251.3,0.02],[252.5,0.04],[253.0,0.01],[254.5,0.058],[255.0,0.01],[256.5,0.075],[257.0,0.01],[258.0,0.02],[259.0,0.005],[261.0,0.03],[262.0,0.11],[262.5,0.05],[263.0,0.15],[263.4,0.168],[263.8,0.07],[264.3,0.146],[264.8,0.05],[265.3,0.1],[265.8,0.084],[266.4,0.02],[266.9,0.075],[267.4,0.005],[270.0,0.001],[273.0,0.001],[273.7,0.02],[274.2,0.03],[274.6,0.066],[275.0,0.01],[275.5,0.02],[276.0,0.0],[277.5,0.0]];

const TEXT = '#2a3f5f';
const FONT = 'DejaVu Sans';

function clock(v) {
    const h = CLOCK_START_HOUR + Math.floor(v / 60);
    const m = Math.round(v % 60);
    return h + ':' + (m < 10 ? '0' : '') + m;
}
const minus = v => String(v).replace('-', '\u2212');
const xy = arr => arr.map(([x, y]) => ({x, y}));

// plot background like plotly
const plotBg = {
    id: 'plotBg',
    beforeDraw(chart) {
        const {ctx, chartArea: a} = chart;
        ctx.save();
        ctx.fillStyle = '#E5ECF6';
        ctx.fillRect(a.left, a.top, a.width, a.height);
        ctx.restore();
    }
};

// title and boxed legend drawn inside the plot area
const deco = {
    id: 'deco',
    afterDraw(chart, args, o) {
        const ctx = chart.ctx;
        ctx.save();
        ctx.fillStyle = TEXT;
        ctx.font = `21.5px "${FONT}"`;
        ctx.textAlign = 'center';
        ctx.textBaseline = 'middle';
        ctx.fillText(o.title, o.titleX, o.titleY);

        const lg = o.legend;
        ctx.fillStyle = '#fff';
        ctx.fillRect(lg.x, lg.y, lg.w, lg.h);
        ctx.font = `14px "${FONT}"`;
        ctx.textAlign = 'left';
        chart.data.datasets.forEach((ds, i) => {
            const y = lg.row0 + i * lg.rowH;
            ctx.strokeStyle = ds.borderColor;
            ctx.lineWidth = lg.lw;
            ctx.beginPath();
            ctx.moveTo(lg.x1, y);
            ctx.lineTo(lg.x2, y);
            ctx.stroke();
            ctx.fillStyle = TEXT;
            ctx.fillText(ds.label, lg.tx, y);
        });
        ctx.restore();
    }
};

const panels = [
    {
        top: 0, h: 330, plot: {l: 86.7, r: 961, t: 29.3, b: 299.3},
        title: 'Licor 840a and 7000 Water Concentration', titleX: 523, titleY: 15.7,
        yTitle: 'Concentration (mmol mol^-1)', yTitleX: 22.6, tickY: 313.3,
        x: [17.84, 278.4], y: [-0.62, 11.97], step: 2, lineWidth: 3,
        legend: {x: 787, y: 38, w: 165, h: 33, row0: 46.7, rowH: 18.3, x1: 793, x2: 826, tx: 833.5, lw: 3},
        series: [
            {label: 'H2Oconc_L840a', data: h2oL840a, color: '#636EFA'},
            {label: 'H2Oconc_L7000', data: h2oL7000, color: '#EF553B'}
        ]
    },
    {
        top: 330, h: 332, plot: {l: 97.4, r: 961, t: 371, b: 636.7},
        title: 'Dew Point and Static Air Temperature Comparison', titleX: 529.5, titleY: 356.7,
        yTitle: 'Temperature (degrees C)', yTitleX: 20.7, tickY: 651.7,
        x: [18.09, 277.9], y: [-31.2, 6.6], step: 10, lineWidth: 1.7,
        legend: {x: 780, y: 374.7, w: 124, h: 74, row0: 385.5, rowH: 18.4, x1: 787, x2: 821.5, tx: 828, lw: 2},
        series: [
            {label: 'Td L840a', data: tdL840a, color: '#00CC96'},
            {label: 'Td L7000', data: tdL7000, color: '#AB63FA'},
            {label: 'Td_CM', data: tdCM, color: '#FFA15A'},
            {label: 'Ts_ssb', data: tsSsb, color: '#19D3F3'}
        ]
    },
    {
        top: 662, h: 320, plot: {l: 103.6, r: 970.5, t: 690.7, b: 956.7},
        title: 'Frost Point and Static Air Temperature Comparison', titleX: 519, titleY: 676.7,
        yTitle: 'Temperature (degrees C)', yTitleX: 26.4, tickY: 970,
        x: [18.1, 278.5], y: [-30.3, 9.95], step: 10, lineWidth: 1.7,
        legend: {x: 771, y: 698, w: 122, h: 57, row0: 706.7, rowH: 18.3, x1: 774.5, x2: 808.4, tx: 815, lw: 2},
        series: [
            {label: 'Ts_ssb', data: tsSsb, color: '#FF6692'},
            {label: 'Tf_L840a', data: tfL840a, color: '#B6E880'},
            {label: 'Tf_L7000', data: tfL7000, color: '#FF97FF'}
        ]
    },
    {
        top: 982, h: 330, plot: {l: 100.5, r: 977, t: 1006.7, b: 1281.7},
        title: 'Relative Humidity', titleX: 540, titleY: 992.7,
        yTitle: 'Humidity (%)', yTitleX: 25, tickY: 1295,
        x: [17.82, 279.4], y: [-5.7, 105.7], step: 20, lineWidth: 3,
        legend: {x: 808, y: 1212, w: 158, h: 52, row0: 1219, rowH: 18.3, x1: 810, x2: 845, tx: 851, lw: 3},
        series: [
            {label: 'RH_w_L7000', data: rhW, color: '#FECB52'},
            {label: 'RH_i_L7000', data: rhI, color: '#636EFA'},
            {label: 'RH_swt_aimms', data: rhSwt, color: '#EF553B'}
        ]
    },
    {
        top: 1312, h: 315, plot: {l: 94.2, r: 985, t: 1341.7, b: 1603.3},
        title: 'Nevzorov Water Content Measurements', titleX: 541, titleY: 1330,
        yTitle: 'Concentration (g/m^-2)', yTitleX: 22.6, tickY: 1616.7,
        x: [17.54, 277.5], y: [-0.009, 0.687], step: 0.2, lineWidth: 1.4,
        legend: {x: 853.3, y: 1377.3, w: 91, h: 50, row0: 1391.5, rowH: 18.4, x1: 858.3, x2: 892.3, tx: 899, lw: 1.5},
        series: [
            {label: 'LWC', data: lwc, color: 'rgba(255, 0, 0, 0.75)'},
            {label: 'IWC', data: iwc, color: 'rgba(0, 0, 255, 0.75)'}
        ],
        yFormat: v => v === 0 ? '0' : v.toFixed(1)
    }
];

function makePanel(p) {
    const page = document.getElementById('page');
    const cv = document.createElement('canvas');
    cv.width = 985;
    cv.height = p.h;
    cv.style.width = '985px';
    cv.style.height = p.h + 'px';
    cv.style.top = p.top + 'px';
    page.insertBefore(cv, document.getElementById('calib'));

    const n = p.series.length;
    const legend = Object.assign({}, p.legend, {
        y: p.legend.y - p.top,
        row0: p.legend.row0 - p.top
    });

    return new Chart(cv, {
        type: 'line',
        data: {
            datasets: p.series.map((s, i) => ({
                label: s.label,
                data: xy(s.data),
                borderColor: s.color,
                backgroundColor: s.color,
                borderWidth: p.lineWidth,
                pointRadius: 0,
                tension: 0,
                fill: false,
                order: n - i
            }))
        },
        options: {
            responsive: false,
            animation: false,
            devicePixelRatio: 1,
            events: [],
            layout: {
                padding: {top: p.plot.t - p.top, left: 0, right: 985 - p.plot.r, bottom: 0}
            },
            plugins: {
                legend: {display: false},
                tooltip: {enabled: false},
                deco: {title: p.title, titleX: p.titleX, titleY: p.titleY - p.top, legend: legend}
            },
            scales: {
                x: {
                    type: 'linear',
                    min: p.x[0],
                    max: p.x[1],
                    border: {display: false},
                    grid: {color: '#fff', lineWidth: 1, drawTicks: false},
                    ticks: {
                        stepSize: 30,
                        includeBounds: false,
                        autoSkip: false,
                        maxRotation: 0,
                        padding: p.tickY - p.plot.b - 9.6,
                        color: TEXT,
                        font: {family: FONT, size: 16},
                        callback: clock
                    },
                    afterFit: s => { s.height = p.top + p.h - p.plot.b; }
                },
                y: {
                    type: 'linear',
                    min: p.y[0],
                    max: p.y[1],
                    border: {display: false},
                    grid: {
                        color: '#fff',
                        lineWidth: c => (c.tick && c.tick.value === 0 ? 2 : 1),
                        drawTicks: false
                    },
                    ticks: {
                        stepSize: p.step,
                        includeBounds: false,
                        padding: 5,
                        color: TEXT,
                        font: {family: FONT, size: 16},
                        callback: p.yFormat || minus
                    },
                    title: {
                        display: true,
                        text: p.yTitle,
                        color: TEXT,
                        font: {family: FONT, size: 17.5},
                        padding: {top: p.yTitleX - 10.5, bottom: 0}
                    },
                    afterFit: s => { s.width = p.plot.l; }
                }
            }
        },
        plugins: [plotBg, deco]
    });
}

panels.forEach(makePanel);
</script>
</body>
</html>
